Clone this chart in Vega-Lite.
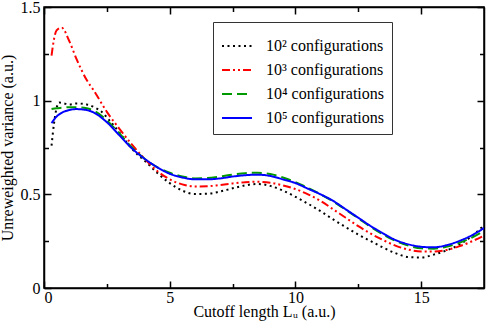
{
  "$schema": "https://vega.github.io/schema/vega-lite/v6.json",
  "width": 440,
  "height": 281,
  "autosize": {"type": "none"},
  "padding": {"left": 44, "top": 7, "right": 4, "bottom": 41},
  "background": "white",
  "config": {
    "view": {"stroke": "black", "strokeWidth": 1.5},
    "font": "Liberation Serif",
    "axis": {"grid": false},
    "legend": {"labelFont": "Liberation Serif"}
  },
  "data": {
    "values": [
      {"s": "10² configurations", "x": 0.3, "y": 0.76},
      {"s": "10² configurations", "x": 0.4, "y": 0.88},
      {"s": "10² configurations", "x": 0.5, "y": 0.96},
      {"s": "10² configurations", "x": 0.6, "y": 0.99},
      {"s": "10² configurations", "x": 0.8, "y": 0.985},
      {"s": "10² configurations", "x": 1.0, "y": 0.98},
      {"s": "10² configurations", "x": 1.3, "y": 0.985},
      {"s": "10² configurations", "x": 1.7, "y": 0.98},
      {"s": "10² configurations", "x": 2.0, "y": 0.965},
      {"s": "10² configurations", "x": 2.3, "y": 0.94},
      {"s": "10² configurations", "x": 2.6, "y": 0.895},
      {"s": "10² configurations", "x": 3.0, "y": 0.83},
      {"s": "10² configurations", "x": 3.3, "y": 0.775},
      {"s": "10² configurations", "x": 3.7, "y": 0.715},
      {"s": "10² configurations", "x": 4.0, "y": 0.68},
      {"s": "10² configurations", "x": 4.5, "y": 0.615},
      {"s": "10² configurations", "x": 5.0, "y": 0.56},
      {"s": "10² configurations", "x": 5.5, "y": 0.52},
      {"s": "10² configurations", "x": 6.0, "y": 0.502},
      {"s": "10² configurations", "x": 6.5, "y": 0.503},
      {"s": "10² configurations", "x": 7.0, "y": 0.515},
      {"s": "10² configurations", "x": 7.5, "y": 0.532},
      {"s": "10² configurations", "x": 8.0, "y": 0.548},
      {"s": "10² configurations", "x": 8.5, "y": 0.555},
      {"s": "10² configurations", "x": 9.0, "y": 0.545},
      {"s": "10² configurations", "x": 9.5, "y": 0.52},
      {"s": "10² configurations", "x": 10.0, "y": 0.487},
      {"s": "10² configurations", "x": 10.5, "y": 0.45},
      {"s": "10² configurations", "x": 11.0, "y": 0.41},
      {"s": "10² configurations", "x": 11.5, "y": 0.366},
      {"s": "10² configurations", "x": 12.0, "y": 0.325},
      {"s": "10² configurations", "x": 12.5, "y": 0.285},
      {"s": "10² configurations", "x": 13.0, "y": 0.25},
      {"s": "10² configurations", "x": 13.5, "y": 0.215},
      {"s": "10² configurations", "x": 14.0, "y": 0.185},
      {"s": "10² configurations", "x": 14.5, "y": 0.165},
      {"s": "10² configurations", "x": 15.0, "y": 0.163},
      {"s": "10² configurations", "x": 15.5, "y": 0.178},
      {"s": "10² configurations", "x": 16.0, "y": 0.2},
      {"s": "10² configurations", "x": 16.5, "y": 0.23},
      {"s": "10² configurations", "x": 17.0, "y": 0.275},
      {"s": "10² configurations", "x": 17.5, "y": 0.335},

      {"s": "10³ configurations", "x": 0.3, "y": 1.24},
      {"s": "10³ configurations", "x": 0.4, "y": 1.33},
      {"s": "10³ configurations", "x": 0.5, "y": 1.375},
      {"s": "10³ configurations", "x": 0.7, "y": 1.39},
      {"s": "10³ configurations", "x": 1.0, "y": 1.32},
      {"s": "10³ configurations", "x": 1.3, "y": 1.22},
      {"s": "10³ configurations", "x": 1.7, "y": 1.11},
      {"s": "10³ configurations", "x": 2.0, "y": 1.05},
      {"s": "10³ configurations", "x": 2.5, "y": 0.94},
      {"s": "10³ configurations", "x": 3.0, "y": 0.85},
      {"s": "10³ configurations", "x": 3.5, "y": 0.765},
      {"s": "10³ configurations", "x": 4.0, "y": 0.69},
      {"s": "10³ configurations", "x": 4.5, "y": 0.625},
      {"s": "10³ configurations", "x": 5.0, "y": 0.58},
      {"s": "10³ configurations", "x": 5.5, "y": 0.553},
      {"s": "10³ configurations", "x": 6.0, "y": 0.542},
      {"s": "10³ configurations", "x": 6.5, "y": 0.543},
      {"s": "10³ configurations", "x": 7.0, "y": 0.55},
      {"s": "10³ configurations", "x": 7.5, "y": 0.558},
      {"s": "10³ configurations", "x": 8.0, "y": 0.565},
      {"s": "10³ configurations", "x": 8.5, "y": 0.567},
      {"s": "10³ configurations", "x": 9.0, "y": 0.562},
      {"s": "10³ configurations", "x": 9.5, "y": 0.548},
      {"s": "10³ configurations", "x": 10.0, "y": 0.528},
      {"s": "10³ configurations", "x": 10.5, "y": 0.5},
      {"s": "10³ configurations", "x": 11.0, "y": 0.465},
      {"s": "10³ configurations", "x": 11.5, "y": 0.42},
      {"s": "10³ configurations", "x": 12.0, "y": 0.375},
      {"s": "10³ configurations", "x": 12.5, "y": 0.33},
      {"s": "10³ configurations", "x": 13.0, "y": 0.29},
      {"s": "10³ configurations", "x": 13.5, "y": 0.255},
      {"s": "10³ configurations", "x": 14.0, "y": 0.225},
      {"s": "10³ configurations", "x": 14.5, "y": 0.205},
      {"s": "10³ configurations", "x": 15.0, "y": 0.195},
      {"s": "10³ configurations", "x": 15.5, "y": 0.195},
      {"s": "10³ configurations", "x": 16.0, "y": 0.203},
      {"s": "10³ configurations", "x": 16.5, "y": 0.222},
      {"s": "10³ configurations", "x": 17.0, "y": 0.248},
      {"s": "10³ configurations", "x": 17.5, "y": 0.28},

      {"s": "10⁴ configurations", "x": 0.3, "y": 0.955},
      {"s": "10⁴ configurations", "x": 0.5, "y": 0.96},
      {"s": "10⁴ configurations", "x": 0.7, "y": 0.962},
      {"s": "10⁴ configurations", "x": 1.0, "y": 0.965},
      {"s": "10⁴ configurations", "x": 1.3, "y": 0.965},
      {"s": "10⁴ configurations", "x": 1.7, "y": 0.96},
      {"s": "10⁴ configurations", "x": 2.0, "y": 0.945},
      {"s": "10⁴ configurations", "x": 2.5, "y": 0.895},
      {"s": "10⁴ configurations", "x": 3.0, "y": 0.825},
      {"s": "10⁴ configurations", "x": 3.5, "y": 0.75},
      {"s": "10⁴ configurations", "x": 4.0, "y": 0.69},
      {"s": "10⁴ configurations", "x": 4.5, "y": 0.645},
      {"s": "10⁴ configurations", "x": 5.0, "y": 0.615},
      {"s": "10⁴ configurations", "x": 5.5, "y": 0.595},
      {"s": "10⁴ configurations", "x": 6.0, "y": 0.585},
      {"s": "10⁴ configurations", "x": 6.5, "y": 0.587},
      {"s": "10⁴ configurations", "x": 7.0, "y": 0.595},
      {"s": "10⁴ configurations", "x": 7.5, "y": 0.605},
      {"s": "10⁴ configurations", "x": 8.0, "y": 0.613},
      {"s": "10⁴ configurations", "x": 8.5, "y": 0.615},
      {"s": "10⁴ configurations", "x": 9.0, "y": 0.608},
      {"s": "10⁴ configurations", "x": 9.5, "y": 0.59},
      {"s": "10⁴ configurations", "x": 10.0, "y": 0.565},
      {"s": "10⁴ configurations", "x": 10.5, "y": 0.535},
      {"s": "10⁴ configurations", "x": 11.0, "y": 0.5},
      {"s": "10⁴ configurations", "x": 11.5, "y": 0.462},
      {"s": "10⁴ configurations", "x": 12.0, "y": 0.418},
      {"s": "10⁴ configurations", "x": 12.5, "y": 0.372},
      {"s": "10⁴ configurations", "x": 13.0, "y": 0.326},
      {"s": "10⁴ configurations", "x": 13.5, "y": 0.285},
      {"s": "10⁴ configurations", "x": 14.0, "y": 0.25},
      {"s": "10⁴ configurations", "x": 14.5, "y": 0.226},
      {"s": "10⁴ configurations", "x": 15.0, "y": 0.212},
      {"s": "10⁴ configurations", "x": 15.5, "y": 0.21},
      {"s": "10⁴ configurations", "x": 16.0, "y": 0.22},
      {"s": "10⁴ configurations", "x": 16.5, "y": 0.24},
      {"s": "10⁴ configurations", "x": 17.0, "y": 0.268},
      {"s": "10⁴ configurations", "x": 17.5, "y": 0.305},

      {"s": "10⁵ configurations", "x": 0.3, "y": 0.88},
      {"s": "10⁵ configurations", "x": 0.5, "y": 0.915},
      {"s": "10⁵ configurations", "x": 0.7, "y": 0.935},
      {"s": "10⁵ configurations", "x": 1.0, "y": 0.95},
      {"s": "10⁵ configurations", "x": 1.3, "y": 0.955},
      {"s": "10⁵ configurations", "x": 1.7, "y": 0.95},
      {"s": "10⁵ configurations", "x": 2.0, "y": 0.935},
      {"s": "10⁵ configurations", "x": 2.5, "y": 0.885},
      {"s": "10⁵ configurations", "x": 3.0, "y": 0.815},
      {"s": "10⁵ configurations", "x": 3.5, "y": 0.745},
      {"s": "10⁵ configurations", "x": 4.0, "y": 0.69},
      {"s": "10⁵ configurations", "x": 4.5, "y": 0.645},
      {"s": "10⁵ configurations", "x": 5.0, "y": 0.61},
      {"s": "10⁵ configurations", "x": 5.5, "y": 0.59},
      {"s": "10⁵ configurations", "x": 6.0, "y": 0.58},
      {"s": "10⁵ configurations", "x": 6.5, "y": 0.58},
      {"s": "10⁵ configurations", "x": 7.0, "y": 0.585},
      {"s": "10⁵ configurations", "x": 7.5, "y": 0.595},
      {"s": "10⁵ configurations", "x": 8.0, "y": 0.602},
      {"s": "10⁵ configurations", "x": 8.5, "y": 0.605},
      {"s": "10⁵ configurations", "x": 9.0, "y": 0.598},
      {"s": "10⁵ configurations", "x": 9.5, "y": 0.58},
      {"s": "10⁵ configurations", "x": 10.0, "y": 0.56},
      {"s": "10⁵ configurations", "x": 10.5, "y": 0.53},
      {"s": "10⁵ configurations", "x": 11.0, "y": 0.5},
      {"s": "10⁵ configurations", "x": 11.5, "y": 0.465},
      {"s": "10⁵ configurations", "x": 12.0, "y": 0.42},
      {"s": "10⁵ configurations", "x": 12.5, "y": 0.375},
      {"s": "10⁵ configurations", "x": 13.0, "y": 0.33},
      {"s": "10⁵ configurations", "x": 13.5, "y": 0.29},
      {"s": "10⁵ configurations", "x": 14.0, "y": 0.255},
      {"s": "10⁵ configurations", "x": 14.5, "y": 0.233},
      {"s": "10⁵ configurations", "x": 15.0, "y": 0.22},
      {"s": "10⁵ configurations", "x": 15.5, "y": 0.217},
      {"s": "10⁵ configurations", "x": 16.0, "y": 0.228},
      {"s": "10⁵ configurations", "x": 16.5, "y": 0.25},
      {"s": "10⁵ configurations", "x": 17.0, "y": 0.28},
      {"s": "10⁵ configurations", "x": 17.5, "y": 0.32}
    ]
  },
  "resolve": {"axis": {"x": "independent", "y": "independent"}},
  "layer": [
    {
      "mark": {"type": "line", "strokeWidth": 2, "interpolate": "monotone", "clip": true},
      "encoding": {
        "x": {
          "field": "x", "type": "quantitative",
          "scale": {"domain": [0, 17.5], "nice": false, "zero": false},
          "axis": {
            "orient": "bottom", "title": "Cutoff length Lᵤ (a.u.)",
            "titleFont": "Liberation Serif", "titleFontSize": 16, "titleFontWeight": "normal", "titleColor": "black", "titlePadding": -2,
            "labelFont": "Liberation Serif", "labelFontSize": 16, "labelColor": "black",
            "values": [0, 5, 10, 15], "format": "d", "grid": false,
            "tickSize": -7, "tickColor": "black", "tickWidth": 1.5,
            "domainColor": "black", "domainWidth": 1.5, "labelPadding": 8
          }
        },
        "y": {
          "field": "y", "type": "quantitative",
          "scale": {"domain": [0, 1.5], "nice": false, "zero": false},
          "axis": {
            "orient": "left", "title": "Unreweighted variance (a.u.)",
            "titleFont": "Liberation Serif", "titleFontSize": 16, "titleFontWeight": "normal", "titleColor": "black", "titlePadding": 5,
            "labelFont": "Liberation Serif", "labelFontSize": 16, "labelColor": "black",
            "values": [0, 0.5, 1, 1.5], "format": "~g", "grid": false,
            "tickSize": -7, "tickColor": "black", "tickWidth": 1.5,
            "domainColor": "black", "domainWidth": 1.5, "labelPadding": 11
          }
        },
        "color": {
          "field": "s", "type": "nominal",
          "scale": {
            "domain": ["10² configurations", "10³ configurations", "10⁴ configurations", "10⁵ configurations"],
            "range": ["#000000", "#ff0000", "#009a00", "#0000ff"]
          },
          "legend": {
            "orient": "none", "legendX": 169, "legendY": 15, "title": null,
            "padding": 8, "strokeColor": "#333333", "fillColor": "white",
            "labelFont": "Liberation Serif", "labelFontSize": 16, "labelColor": "black", "labelOffset": 13,
            "symbolType": "stroke", "symbolStrokeWidth": 2, "symbolSize": 900,
            "rowPadding": -4, "labelLimit": 300,
            "encode": {"labels": {"update": {"font": {"value": "Liberation Serif"}, "fontSize": {"value": 16}}}}
          }
        },
        "strokeDash": {
          "field": "s", "type": "nominal",
          "scale": {
            "domain": ["10² configurations", "10³ configurations", "10⁴ configurations", "10⁵ configurations"],
            "range": [[2, 3.5], [8, 3, 2, 3, 2, 3], [10, 5], [1, 0]]
          },
          "legend": {
            "orient": "none", "legendX": 169, "legendY": 15, "title": null,
            "padding": 8, "strokeColor": "#333333", "fillColor": "white",
            "labelFont": "Liberation Serif", "labelFontSize": 16, "labelColor": "black", "labelOffset": 13,
            "symbolType": "stroke", "symbolStrokeWidth": 2, "symbolSize": 900,
            "rowPadding": -4, "labelLimit": 300
          }
        }
      }
    },
    {
      "mark": {"type": "line", "opacity": 0, "strokeOpacity": 0},
      "encoding": {
        "x": {"field": "x", "type": "quantitative",
          "axis": {"orient": "top", "title": null, "values": [0, 5, 10, 15], "labels": false, "grid": false, "tickSize": -7, "tickColor": "black", "tickWidth": 1.5, "domainColor": "black", "domainWidth": 1.5}},
        "y": {"field": "y", "type": "quantitative",
          "axis": {"orient": "right", "title": null, "values": [0, 0.5, 1, 1.5], "labels": false, "grid": false, "tickSize": -7, "tickColor": "black", "tickWidth": 1.5, "domainColor": "black", "domainWidth": 1.5}}
      }
    },
    {
      "mark": {"type": "line", "opacity": 0, "strokeOpacity": 0},
      "encoding": {
        "x": {"field": "x", "type": "quantitative",
          "axis": {"orient": "bottom", "title": null, "values": [2.5, 7.5, 12.5], "labels": false, "grid": false, "domain": false, "tickSize": -4.5, "tickColor": "black", "tickWidth": 1.5}},
        "y": {"field": "y", "type": "quantitative",
          "axis": {"orient": "left", "title": null, "values": [0.25, 0.75, 1.25], "labels": false, "grid": false, "domain": false, "tickSize": -4.5, "tickColor": "black", "tickWidth": 1.5}}
      }
    },
    {
      "mark": {"type": "line", "opacity": 0, "strokeOpacity": 0},
      "encoding": {
        "x": {"field": "x", "type": "quantitative",
          "axis": {"orient": "top", "title": null, "values": [2.5, 7.5, 12.5], "labels": false, "grid": false, "domain": false, "tickSize": -4.5, "tickColor": "black", "tickWidth": 1.5}},
        "y": {"field": "y", "type": "quantitative",
          "axis": {"orient": "right", "title": null, "values": [0.25, 0.75, 1.25], "labels": false, "grid": false, "domain": false, "tickSize": -4.5, "tickColor": "black", "tickWidth": 1.5}}
      }
    }
  ]
}
